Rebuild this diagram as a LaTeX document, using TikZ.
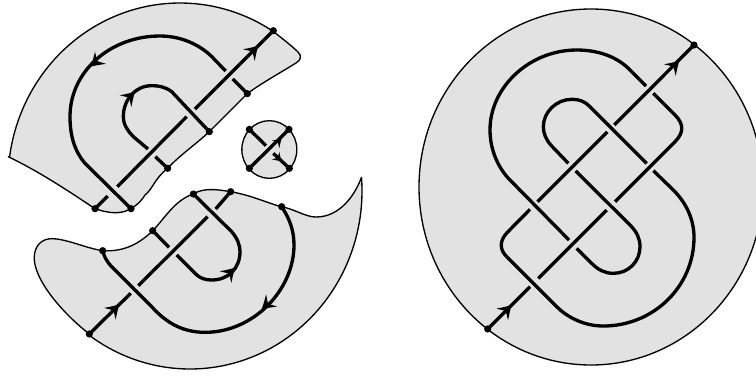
\documentclass[tikz,border=0pt]{standalone}
\definecolor{regiongray}{HTML}{E2E2E2}
\tikzset{
  region/.style={fill=regiongray,draw=black,line width=1pt,line join=round},
  strand/.style={draw=black,line width=2.5pt,line cap=butt,line join=round},
  enddot/.style={circle,fill=black,inner sep=0pt,minimum size=5.4pt},
  zoomA/.style={x=.25pt,y=-.25pt},
  zoomB/.style={xshift=15pt,yshift=-127.5pt,x=.25pt,y=-.25pt},
  zoomC/.style={xshift=307.5pt,x=.25pt,y=-.25pt}
}
\newcommand{\ahead}[4][1]{\fill[black,shift={(#2,#3)},rotate=#4,scale=#1] (0pt,0pt) .. controls (-3pt,1.6pt) and (-6pt,3.4pt) .. (-10pt,6.2pt) .. controls (-8.2pt,3pt) and (-7pt,1.5pt) .. (-6.4pt,0pt) .. controls (-7pt,-1.5pt) and (-8.2pt,-3pt) .. (-10pt,-6.2pt) .. controls (-6pt,-3.4pt) and (-3pt,-1.6pt) .. (0pt,0pt) -- cycle;}
\begin{document}
\begin{tikzpicture}[x=.75pt,y=-.75pt]
\clip (0,0) rectangle (756,376);
\fill[white] (0,0) rectangle (756,376);

% ---------- right disc ----------
\draw[region] (591,187) ellipse [x radius=172,y radius=178];
\begin{scope}[zoomC]
\node[enddot] (rb) at (233,987) {};
\node[enddot] (rt) at (852,135) {};
\draw[strand] (rb.center) -- (360,860);
\draw[strand] (385,835) -- (590,630);
\draw[strand] (615,605) -- (795,425) .. controls (822,398) and (822,372) .. (795,345) -- (730,280);
\draw[strand] (708,258) -- (655,205) .. controls (615,167) and (560,150) .. (500,150) .. controls (360,150) and (240,260) .. (240,390) .. controls (240,450) and (265,505) .. (300,540) -- (477,720);
\draw[strand] (500,745) -- (545,790) .. controls (565,810) and (585,820) .. (610,820) .. controls (655,820) and (690,785) .. (690,740) .. controls (690,715) and (680,695) .. (660,675) -- (497,513);
\draw[strand] (475,490) -- (425,438) .. controls (408,420) and (400,400) .. (400,380) .. controls (400,335) and (440,298) .. (485,298) .. controls (510,298) and (525,305) .. (540,320) -- (710,490);
\draw[strand] (730,512) -- (790,570) .. controls (830,610) and (852,660) .. (852,712) .. controls (852,860) and (730,978) .. (580,978) .. controls (520,978) and (470,950) .. (440,920) -- (290,770) .. controls (268,748) and (268,722) .. (292,697) -- (360,628);
\draw[strand] (383,605) -- (592,396);
\draw[strand] (613,375) -- (rt.center);
\ahead{808}{182}{45}
\ahead{305}{915}{45}
\end{scope}

% ---------- upper left piece ----------
\draw[region] plot[domain=172.3:57.3,samples=60,smooth] ({180+172*cos(\x)},{181-178*sin(\x)})
  .. controls (283,39) and (293,47) .. (298,52)
  .. controls (302,56) and (301,60) .. (296,63)
  .. controls (280,73) and (260,84) .. (247.3,93.7)
  -- (209.3,131.7)
  .. controls (195,145) and (180,155) .. (167.7,168.3)
  .. controls (155,178) and (152,190) .. (145,195)
  .. controls (140,203) and (135,206) .. (131,208.7)
  .. controls (120,215) and (108,213) .. (95,208.7)
  .. controls (70,192) and (40,172) .. (8.3,156.7) -- cycle;
\begin{scope}[zoomA]
\node[enddot] (a1) at (820,92) {};
\node[enddot] (a2) at (742,281) {};
\node[enddot] (a3) at (628,395) {};
\node[enddot] (a4) at (503,505) {};
\node[enddot] (a5) at (393,626) {};
\node[enddot] (a6) at (285,626) {};
\draw[strand] (a6.center) -- (323,588);
\draw[strand] (352,560) -- (560,350);
\draw[strand] (585,327) -- (a1.center);
\draw[strand] (a5.center) -- (255,490) .. controls (225,455) and (210,410) .. (210,350) .. controls (210,215) and (330,108) .. (480,108) .. controls (550,108) and (610,140) .. (645,180) -- (677,213);
\draw[strand] (698,237) -- (a2.center);
\draw[strand] (a3.center) -- (515,275) .. controls (495,260) and (475,257) .. (455,257) .. controls (405,257) and (370,300) .. (370,350) .. controls (370,375) and (385,395) .. (400,410) -- (444,447);
\draw[strand] (466,470) -- (a4.center);
\ahead{775}{137}{45}
\ahead{272}{200}{222}
\ahead{405}{275}{45}
\end{scope}

% ---------- small disc ----------
\begin{scope}[zoomA]
\draw[region] (808,448.5) ellipse [x radius=82.5,y radius=86.5];
\node[enddot] (c1) at (748,388) {};
\node[enddot] (c2) at (867,388) {};
\node[enddot] (c3) at (748,505) {};
\node[enddot] (c4) at (868,505) {};
\draw[strand] (c3.center) -- (c2.center);
\draw[strand] (c1.center) -- (798,437);
\draw[strand] (820,460) -- (c4.center);
\ahead[.65]{845}{415}{45}
\ahead[.65]{845}{485}{-45}
\end{scope}

% ---------- lower left piece ----------
\draw[region] plot[domain=-126.2:4.4,samples=70,smooth] ({190+172*cos(\x)},{191-178*sin(\x)})
  .. controls (355,195) and (340,217) .. (316,217)
  .. controls (305,217) and (295,209) .. (281,206.7)
  .. controls (265,202) and (250,195) .. (230.7,191.7)
  .. controls (215,189) and (203,188) .. (193.3,194)
  .. controls (175,200) and (165,218) .. (152.7,230.7)
  .. controls (140,243) and (125,252) .. (102.7,250.7)
  .. controls (85,248) and (65,238) .. (50,238.7)
  .. controls (38,240) and (33,250) .. (34.5,262)
  .. controls (38,285) and (65,315) .. (89.3,334) -- cycle;
\begin{scope}[zoomB]
\node[enddot] (b1) at (208,492) {};
\node[enddot] (b2) at (632,65) {};
\node[enddot] (b3) at (520,72) {};
\node[enddot] (b4) at (398,182) {};
\node[enddot] (b5) at (248,242) {};
\node[enddot] (b6) at (785,110) {};
\draw[strand] (b1.center) -- (332,370);
\draw[strand] (355,347) -- (563,140);
\draw[strand] (587,117) -- (b2.center);
\draw[strand] (b3.center) -- (635,185) .. controls (652,205) and (660,225) .. (660,245) .. controls (660,295) and (625,330) .. (575,330) .. controls (555,330) and (540,325) .. (525,310) -- (470,255);
\draw[strand] (447,232) -- (b4.center);
\draw[strand] (b5.center) .. controls (252,258) and (258,272) .. (275,290) -- (395,410) .. controls (440,460) and (490,487) .. (555,487) .. controls (700,487) and (822,360) .. (822,225) .. controls (822,180) and (808,145) .. (b6.center);
\ahead{298}{403}{45}
\ahead{645}{293}{45}
\ahead{725}{418}{222}
\end{scope}
\end{tikzpicture}
\end{document}
